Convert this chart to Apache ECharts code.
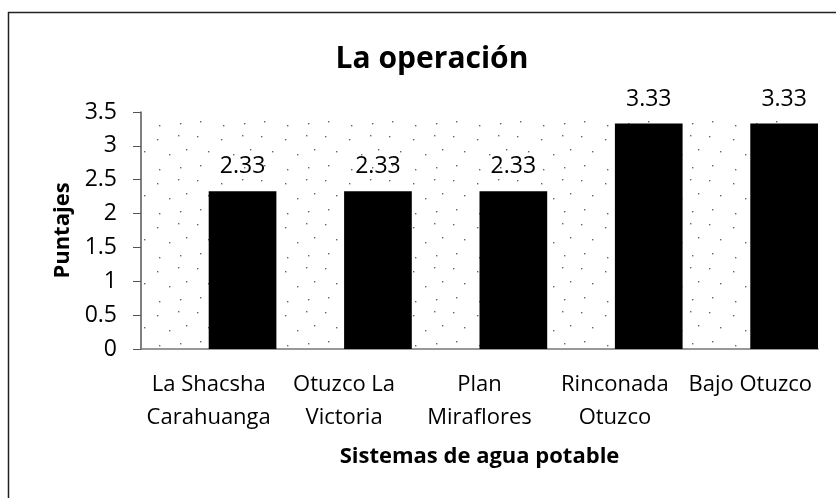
<!DOCTYPE html>
<html>
<head>
<meta charset="utf-8">
<script src="https://cdn.jsdelivr.net/npm/echarts@6/dist/echarts.min.js"></script>
<style>
html,body{margin:0;padding:0;background:#fff;}
#c{width:836px;height:498px;}
</style>
</head>
<body>
<div id="c"></div>
<script>
var categories = ["La Shacsha\nCarahuanga", "Otuzco La\nVictoria", "Plan\nMiraflores", "Rinconada\nOtuzco", "Bajo Otuzco"];
var spacerValues = [0, 0, 0, 0, 0];
var scores = [2.33, 2.33, 2.33, 3.33, 3.33];
var yTicks = {min: 0, max: 3.5, interval: 0.5};

// sparse dotted texture for the plot background
var tile = document.createElement('canvas');
tile.width = 64; tile.height = 44;
var tctx = tile.getContext('2d');
tctx.fillStyle = '#fff';
tctx.fillRect(0, 0, 64, 44);
tctx.fillStyle = '#666';
var dots = [[5,4],[29,7],[50,3],[16,19],[41,22],[58,17],[8,33],[31,37],[52,35]];
dots.forEach(function(d){ tctx.fillRect(d[0], d[1], 1.4, 1.4); });

var font = '"Open Sans", "Noto Sans", sans-serif';
var chart = echarts.init(document.getElementById('c'), null, {renderer: 'canvas'});
chart.setOption({
  backgroundColor: '#fff',
  animation: false,
  title: {
    text: 'La operación',
    left: 427,
    textAlign: 'center',
    top: 39,
    textStyle: {fontFamily: font, fontSize: 30, fontWeight: 'bold', color: '#000'}
  },
  graphic: [
    {type: 'line', shape: {x1: 8, y1: 12.5, x2: 836, y2: 12.5}, style: {stroke: '#222', lineWidth: 1.5}},
    {type: 'line', shape: {x1: 8.5, y1: 12, x2: 8.5, y2: 498}, style: {stroke: '#222', lineWidth: 1.5}}
  ],
  grid: {
    left: 141, right: 18, top: 112, bottom: 149,
    show: true,
    borderWidth: 0,
    backgroundColor: {image: tile, repeat: 'repeat'}
  },
  xAxis: {
    type: 'category',
    data: categories,
    name: 'Sistemas de agua potable',
    nameLocation: 'middle',
    nameGap: 97,
    nameTextStyle: {fontFamily: font, fontSize: 22, fontWeight: 'bold', color: '#000'},
    axisLine: {show: true, lineStyle: {color: '#777', width: 1.5}},
    axisTick: {show: false},
    axisLabel: {fontFamily: font, fontSize: 22, color: '#000', lineHeight: 33, margin: 19, interval: 0}
  },
  yAxis: {
    type: 'value',
    min: yTicks.min,
    max: yTicks.max,
    interval: yTicks.interval,
    name: 'Puntajes',
    nameLocation: 'middle',
    nameGap: 66,
    nameTextStyle: {fontFamily: font, fontSize: 22, fontWeight: 'bold', color: '#000'},
    axisLine: {show: true, lineStyle: {color: '#555', width: 1.5}},
    axisTick: {show: true, inside: false, length: 8, lineStyle: {color: '#555'}},
    axisLabel: {fontFamily: font, fontSize: 23, color: '#000', margin: 24},
    splitLine: {show: false}
  },
  series: [
    {
      name: 'spacer',
      type: 'bar',
      data: spacerValues,
      itemStyle: {color: 'rgba(0,0,0,0)'},
      silent: true,
      barGap: '0%',
      barCategoryGap: '0%'
    },
    {
      name: 'Puntajes',
      type: 'bar',
      data: scores,
      itemStyle: {color: '#000'},
      barGap: '0%',
      barCategoryGap: '0%',
      label: {
        show: true,
        position: 'top',
        distance: 13,
        fontFamily: font,
        fontSize: 23,
        color: '#000'
      }
    }
  ]
});
</script>
</body>
</html>
